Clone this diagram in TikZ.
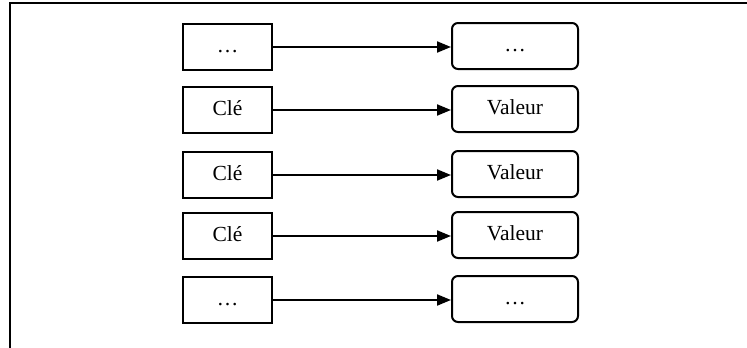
\documentclass[tikz,border=0pt]{standalone}
\usepackage{fontspec}
\setmainfont{Liberation Serif}
\usetikzlibrary{arrows.meta}
\tikzset{>={Triangle[length=14pt,width=11pt]}}
\tikzset{
  cle/.style={draw, line width=2pt, minimum width=89pt, minimum height=46pt,
    inner sep=0pt, text height=14pt, text depth=4pt,
    font=\fontsize{21.5}{21.5}\selectfont},
  valeur/.style={cle, rounded corners=6pt, minimum width=126pt},
}

\begin{document}
\begin{tikzpicture}[x=1pt, y=-1pt]
    \useasboundingbox (0,0) rectangle (747,348);
    \draw[line width=2pt] (9.5,348) -- (9.5,3) -- (747,3);
    \node[cle] (K1) at (227.5,47) {…};
    \node[cle] (K2) at (227.5,110) {Clé};
    \node[cle] (K3) at (227.5,175) {Clé};
    \node[cle] (K4) at (227.5,236) {Clé};
    \node[cle] (K5) at (227.5,300) {…};
    \node[valeur] (V1) at (515,46) {…};
    \node[valeur] (V2) at (515,109) {Valeur};
    \node[valeur] (V3) at (515,174) {Valeur};
    \node[valeur] (V4) at (515,235) {Valeur};
    \node[valeur] (V5) at (515,299) {…};
    \foreach \i in {1,...,5}
    \draw[line width=2pt, ->] (K\i.east) -- (K\i.east -| V\i.west);
\end{tikzpicture}
\end{document}
